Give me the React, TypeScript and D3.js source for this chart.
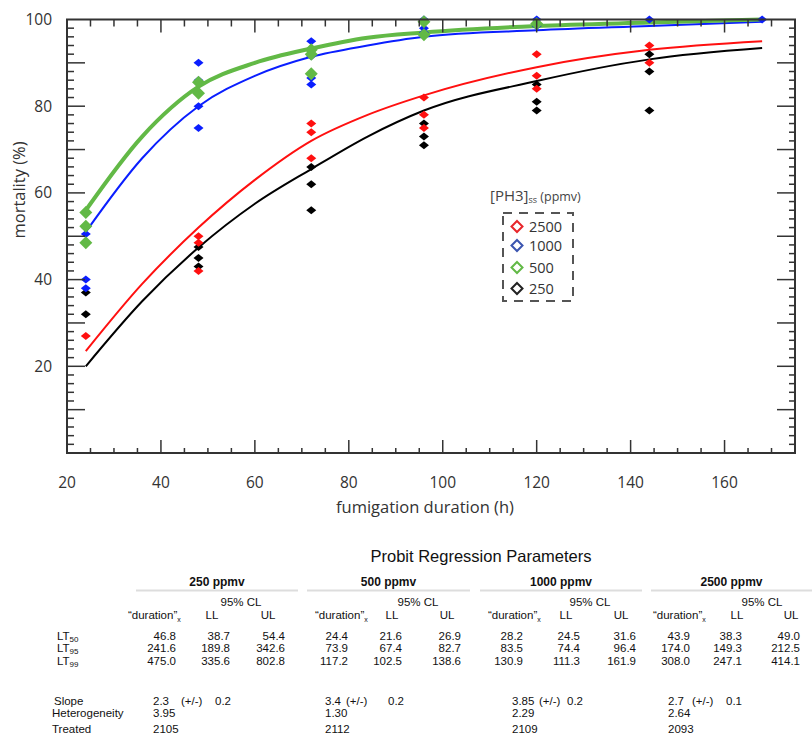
import React from "react";
import * as d3 from "d3";

// ---------- chart data ----------
const concentrations = ["2500", "1000", "500", "250"];
const seriesColors = ["#ff1010", "#0a1eff", "#62b946", "#000000"];
const legendColors = ["#e8262b", "#3b55b0", "#62b946", "#222222"];

// observed mortality (time h, %)
const obs2500: [number, number][] = [
  [24, 27], [48, 50], [48, 48.5], [48, 42], [72, 76], [72, 74], [72, 68],
  [96, 82], [96, 78], [96, 75], [120, 92], [120, 87], [120, 84], [144, 94], [144, 90],
];
const obs1000: [number, number][] = [
  [24, 52], [24, 50.5], [24, 40], [24, 38], [48, 90], [48, 86], [48, 85.5], [48, 80], [48, 75],
  [72, 95], [72, 91.5], [72, 86.5], [72, 85], [96, 100], [96, 98], [96, 97],
  [120, 100], [120, 98.5], [144, 100], [168, 100],
];
const obs500: [number, number][] = [
  [24, 55.5], [24, 52.3], [24, 48.5], [48, 85.5], [48, 83], [72, 93], [72, 92], [72, 87.5],
  [96, 99.5], [96, 96.5], [120, 99],
];
const obs250: [number, number][] = [
  [24, 37], [24, 32], [48, 47.5], [48, 45], [48, 43], [72, 66], [72, 62], [72, 56],
  [96, 76], [96, 73], [96, 71], [120, 85], [120, 81], [120, 79], [144, 92], [144, 88], [144, 79],
];

// fitted curves
const fitTimes = [24, 36, 48, 60, 72, 84, 96, 120, 144, 168];
const fit2500 = [23.5, 39, 52, 63, 72, 78, 82.5, 89, 93, 95];
const fit1000 = [51, 68, 80, 87, 91.4, 94, 96, 97.5, 98.5, 99.5];
const fit500 = [56, 73, 84.5, 90, 93.3, 95.8, 97, 98.5, 99.3, 100];
const fit250 = [20, 35, 47.4, 57.5, 65.5, 73, 79, 85.8, 90.8, 93.4];

const xTickLabels = [20, 40, 60, 80, 100, 120, 140, 160];
const yTickLabels = [20, 40, 60, 80, 100];

// ---------- table data ----------
const tableTitle = "Probit Regression Parameters";
const groupNames = ["250 ppmv", "500 ppmv", "1000 ppmv", "2500 ppmv"];
const rowLabels = ["50", "95", "99"];
const lt50 = [["46.8", "38.7", "54.4"], ["24.4", "21.6", "26.9"], ["28.2", "24.5", "31.6"], ["43.9", "38.3", "49.0"]];
const lt95 = [["241.6", "189.8", "342.6"], ["73.9", "67.4", "82.7"], ["83.5", "74.4", "96.4"], ["174.0", "149.3", "212.5"]];
const lt99 = [["475.0", "335.6", "802.8"], ["117.2", "102.5", "138.6"], ["130.9", "111.3", "161.9"], ["308.0", "247.1", "414.1"]];
const slopes = ["2.3", "3.4", "3.85", "2.7"];
const slopeErr = ["0.2", "0.2", "0.2", "0.1"];
const heterogeneity = ["3.95", "1.30", "2.29", "2.64"];
const treated = ["2105", "2112", "2109", "2093"];

// table layout (pixel positions per group)
const gLayout = [
  { ul0: 136, ul1: 298, durL: 128, v0: 176, v1: 230, v2: 285, ll: 212, ulc: 268, cl: 241, s: 153, pm: 181, e: 215 },
  { ul0: 307, ul1: 470, durL: 315, v0: 348, v1: 402, v2: 461, ll: 392, ulc: 447, cl: 418, s: 325, pm: 346, e: 388 },
  { ul0: 480, ul1: 642, durL: 488, v0: 523, v1: 580, v2: 636, ll: 566, ulc: 621, cl: 590, s: 512, pm: 539, e: 567 },
  { ul0: 651, ul1: 812, durL: 653, v0: 690, v1: 742, v2: 800, ll: 737, ulc: 791, cl: 762, s: 668, pm: 692, e: 726 },
];

const W = 812, H = 736;
const L = 67, R = 795, T = 19.5, B = 453;
const axisFont = "'Open Sans', 'Noto Sans', sans-serif";
const tableFont = "'Liberation Sans', Arial, sans-serif";

function diamond(cx: number, cy: number, hw: number, hh: number) {
  return `M${cx},${cy - hh}L${cx + hw},${cy}L${cx},${cy + hh}L${cx - hw},${cy}Z`;
}

export default function App() {
  const x = d3.scaleLinear().domain([20, 175]).range([L, R]);
  const y = d3.scaleLinear().domain([0, 100]).range([B, T]);
  const line = d3.line<[number, number]>().x(d => x(d[0])).y(d => y(d[1])).curve(d3.curveMonotoneX);

  const fits = [fit2500, fit1000, fit500, fit250];
  const obs = [obs2500, obs1000, obs500, obs250];
  const drawOrder = [3, 0, 1, 2]; // 250, 2500, 1000, 500 (green on top)

  const ax = "#333";
  const ticks: JSX.Element[] = [];
  d3.range(25, 176, 5).forEach(v => {
    const major = v % 20 === 0;
    const px = x(v);
    ticks.push(<line key={"b" + v} x1={px} x2={px} y1={B} y2={B - (major ? 13 : 5)} stroke={ax} strokeWidth={1.5} />);
    ticks.push(<line key={"t" + v} x1={px} x2={px} y1={T} y2={T + (major ? 13 : 7)} stroke={ax} strokeWidth={1.5} />);
  });
  d3.range(2, 100, 2).forEach(v => {
    const major = v % 10 === 0;
    const py = y(v);
    ticks.push(<line key={"l" + v} x1={L} x2={L + (major ? 18 : 7)} y1={py} y2={py} stroke={ax} strokeWidth={1.5} />);
    ticks.push(<line key={"r" + v} x1={R} x2={R - (major ? 18 : 6)} y1={py} y2={py} stroke={ax} strokeWidth={1.5} />);
  });

  const rowsY = [636, 648, 661];
  const ltRows = [lt50, lt95, lt99];
  const legendY = [226.5, 245.5, 267.5, 288.5];

  return (
    <svg width={W} height={H} style={{ position: "absolute", left: 0, top: 0, background: "#fff" }}>
      <rect x={0} y={0} width={W} height={H} fill="#fff" />
      {drawOrder.map(i => (
        <path key={"f" + i} d={line(fitTimes.map((t, k) => [t, fits[i][k]] as [number, number])) || ""}
          fill="none" stroke={seriesColors[i]} strokeWidth={i === 2 ? 4 : 2} />
      ))}
      {drawOrder.map(i => (
        <g key={"o" + i} fill={seriesColors[i]}>
          {obs[i].map((d, k) => (
            <path key={k} d={i === 2 ? diamond(x(d[0]), y(d[1]), 6.5, 6.5) : diamond(x(d[0]), y(d[1]), 5, 4)} />
          ))}
        </g>
      ))}
      <rect x={L} y={T} width={R - L} height={B - T} fill="none" stroke={ax} strokeWidth={2} />
      {ticks}
      {yTickLabels.map(v => (
        <text key={"yl" + v} x={52} y={y(v)} dy="0.35em" textAnchor="end" fontFamily={axisFont} fontSize={15.5} fill="#333">{v}</text>
      ))}
      {xTickLabels.map(v => (
        <text key={"xl" + v} x={x(v)} y={483} dy="0.35em" textAnchor="middle" fontFamily={axisFont} fontSize={15.5} fill="#333">{v}</text>
      ))}
      <text x={425} y={507} dy="0.35em" textAnchor="middle" fontFamily={axisFont} fontSize={16.5} fill="#333">fumigation duration (h)</text>
      <text transform="translate(19,190) rotate(-90)" dy="0.35em" textAnchor="middle" fontFamily={axisFont} fontSize={16.5} fill="#333">mortality (%)</text>

      {/* legend */}
      <text x={490} y={201} fontFamily={axisFont} fill="#444">
        <tspan fontSize={15}>[PH3]</tspan><tspan fontSize={9} dy={2}>ss</tspan><tspan fontSize={12.5} dy={-2}> (ppmv)</tspan>
      </text>
      <rect x={503} y={213} width={70} height={88} fill="none" stroke="#555" strokeWidth={2} strokeDasharray="9 7" />
      {concentrations.map((c, i) => (
        <g key={"lg" + c}>
          <path d={diamond(517, legendY[i], 5.5, 5.5)} fill="none" stroke={legendColors[i]} strokeWidth={2} />
          <text x={529} y={legendY[i]} dy="0.36em" fontFamily={axisFont} fontSize={14.5} fill="#333">{c}</text>
        </g>
      ))}

      {/* table */}
      <g fontFamily={tableFont} fill="#111">
        <text x={481} y={556} dy="0.35em" textAnchor="middle" fontSize={16.5}>{tableTitle}</text>
        {gLayout.map((g, gi) => (
          <g key={"tg" + gi} fontSize={11.5}>
            <text x={(g.ul0 + g.ul1) / 2} y={582} dy="0.35em" textAnchor="middle" fontWeight="bold" fontSize={12}>{groupNames[gi]}</text>
            <line x1={g.ul0} x2={g.ul1} y1={590.5} y2={590.5} stroke="#ddd" strokeWidth={2} />
            <text x={g.cl} y={602} dy="0.35em" textAnchor="middle">95% CL</text>
            <text x={g.durL} y={615} dy="0.35em">“duration”<tspan fontSize={7} dy={3}>x</tspan></text>
            <text x={g.ll} y={615} dy="0.35em" textAnchor="middle">LL</text>
            <text x={g.ulc} y={615} dy="0.35em" textAnchor="middle">UL</text>
            {ltRows.map((rows, ri) => (
              <g key={"r" + ri}>
                <text x={g.v0} y={rowsY[ri]} dy="0.35em" textAnchor="end">{rows[gi][0]}</text>
                <text x={g.v1} y={rowsY[ri]} dy="0.35em" textAnchor="end">{rows[gi][1]}</text>
                <text x={g.v2} y={rowsY[ri]} dy="0.35em" textAnchor="end">{rows[gi][2]}</text>
              </g>
            ))}
            <text x={g.s} y={701} dy="0.35em">{slopes[gi]}</text>
            <text x={g.pm} y={701} dy="0.35em">(+/-)</text>
            <text x={g.e} y={701} dy="0.35em">{slopeErr[gi]}</text>
            <text x={g.s} y={713} dy="0.35em">{heterogeneity[gi]}</text>
            <text x={g.s} y={729} dy="0.35em">{treated[gi]}</text>
          </g>
        ))}
        {rowLabels.map((r, ri) => (
          <text key={"lt" + r} x={57} y={rowsY[ri]} dy="0.35em" fontSize={11.5}>LT<tspan fontSize={8} dy={2}>{r}</tspan></text>
        ))}
        <text x={54} y={701} dy="0.35em" fontSize={11.5}>Slope</text>
        <text x={52} y={713} dy="0.35em" fontSize={11.5}>Heterogeneity</text>
        <text x={52} y={729} dy="0.35em" fontSize={11.5}>Treated</text>
      </g>
    </svg>
  );
}
